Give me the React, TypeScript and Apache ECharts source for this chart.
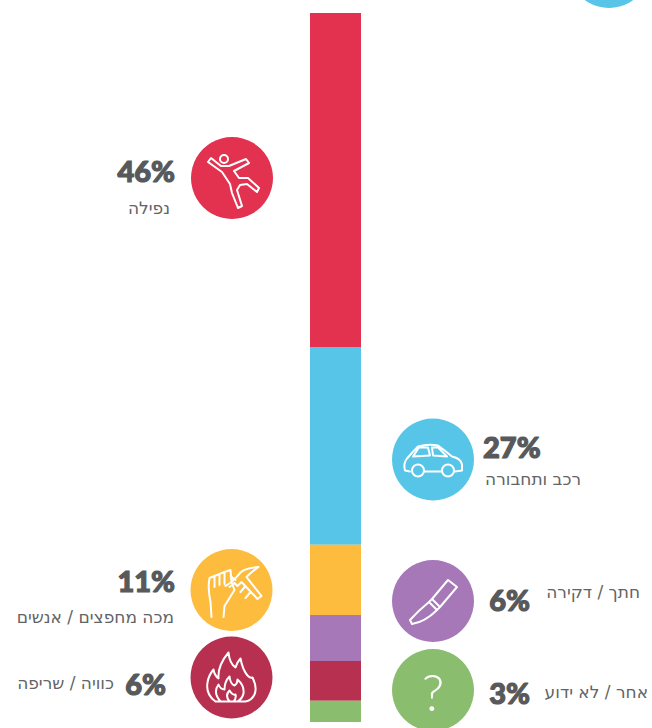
import React, { useEffect, useRef } from "react";
import * as echarts from "echarts";

// Category names as printed, their printed percentages, and each segment's share as measured from the bar.
const categories = ["נפילה", "רכב ותחבורה", "מכה מחפצים / אנשים", "חתך / דקירה", "כוויה / שריפה", "אחר / לא ידוע"];
const percentLabels = ["46%", "27%", "11%", "6%", "6%", "3%"];
const segmentShares = [47.1, 27.9, 9.9, 6.5, 5.6, 3.0];
const colors = ["#E2324F", "#56C5E8", "#FDBC3E", "#A678B8", "#B83050", "#8ABD6E"];

const TEXT = "#58595B";
const LABEL = "#636466";
const FONT = "'DejaVu Sans', 'Open Sans', sans-serif";

const iconPaths: Record<string, string> = {
  iconFall:
    "M-24,-16 L-21,-20 L-11,-12 L-3,-12 L14,-19 L17,-15 L2,-7 L7,0 L16,0 L27,10 L25,14 L15,6 L8,7 L5,12 L10,28 L6,30 L0,15 L-2,6 L-10,-6 Z " +
    "M-4,-19 A4,4 0 1 1 -12,-19 A4,4 0 1 1 -4,-19 Z",
  iconCar:
    "M-23,12 L-28,11 Q-30,4 -26,-1 Q-20,-8 -15,-13 Q-5,-16 5,-14 Q12,-9 19,-3 Q28,-1 29,5 L29,11 L22,12 " +
    "M-8,12 L8,12 " +
    "M-9,11 A6,6 0 1 1 -21,11 A6,6 0 1 1 -9,11 Z " +
    "M21,11 A6,6 0 1 1 9,11 A6,6 0 1 1 21,11 Z " +
    "M-20,-3 L-14,-12 L-5,-12 L-3,-4 Z M-1,-12 L5,-12 L14,-3 L0,-4 Z",
  iconHammer:
    "M-20,27 L-21,12 Q-24,-2 -22,-12 L-17,-14 L-17,-3 M-17,-14 L-12,-16 L-12,-5 M-12,-16 L-7,-18 L-7,-6 M-7,-18 L-1,-20 L0,-8 " +
    "M-8,27 L-7,16 Q-2,8 3,0 L0,-8 L-6,-4 " +
    "M0,-8 L6,-14 M-1,-14 L4,-10 M-2,-3 L3,-7 " +
    "M6,-14 Q10,-22 27,-23 Q20,-18 15,-13 L30,6 L26,9 L10,-8 L6,-4 L3,-7 " +
    "M14,-4 L9,2 M19,2 L14,8",
  iconFlame:
    "M-16,24 Q-26,17 -24,5 Q-23,-2 -18,-8 Q-17,-2 -13,1 Q-14,-12 -3,-25 Q-2,-14 4,-10 Q6,-16 9,-19 Q11,-8 16,-2 Q19,1 21,0 Q26,10 23,17 Q20,23 14,24 Z " +
    "M-11,24 Q-19,15 -13,7 Q-11,12 -7,12 Q-7,4 -2,-1 Q-1,7 3,8 Q6,6 6,2 Q13,8 12,16 Q11,21 6,24 " +
    "M-2,24 Q-7,18 -2,13 Q1,18 4,17 Q5,21 2,24",
  iconKnife:
    "M15,-21 L24,-14 L7,6 L-1,-2 Z M-1,-2 L-4,1 L4,9 L7,6 M-4,1 Q-15,10 -23,19 L-21,23 Q-8,21 4,9",
};
Object.keys(iconPaths).forEach((name) => {
  echarts.graphic.registerShape(name, echarts.graphic.extendPath(iconPaths[name], {}));
});

const circles = [
  { cx: 232, cy: 178, color: colors[0], icon: "iconFall" },
  { cx: 433, cy: 459.5, color: colors[1], icon: "iconCar" },
  { cx: 231.5, cy: 590, color: colors[2], icon: "iconHammer" },
  { cx: 433, cy: 601, color: colors[3], icon: "iconKnife" },
  { cx: 231.5, cy: 677.5, color: colors[4], icon: "iconFlame" },
  { cx: 433, cy: 690, color: colors[5], icon: "" },
];

const percentPlacement = [
  { x: 175, y: 170, align: "right" },
  { x: 483, y: 446, align: "left" },
  { x: 175, y: 580, align: "right" },
  { x: 530, y: 599, align: "right" },
  { x: 166, y: 683, align: "right" },
  { x: 530, y: 692, align: "right" },
];
const labelPlacement = [
  { x: 170, y: 208 },
  { x: 581, y: 479 },
  { x: 174, y: 617 },
  { x: 640, y: 592 },
  { x: 114, y: 683 },
  { x: 648, y: 692 },
];

export default function App() {
  const ref = useRef<HTMLDivElement>(null);
  useEffect(() => {
    document.body.style.margin = "0";
    const chart = echarts.init(ref.current!, undefined, { renderer: "svg" });

    const graphic: any[] = [
      { type: "circle", x: 609, y: -33, shape: { r: 41 }, style: { fill: colors[1] } },
    ];
    circles.forEach((c) => {
      graphic.push({ type: "circle", x: c.cx, y: c.cy, shape: { r: 41 }, style: { fill: c.color } });
      if (c.icon) {
        graphic.push({
          type: c.icon,
          x: c.cx,
          y: c.cy,
          style: { fill: "none", stroke: "#FFFFFF", lineWidth: 2, lineJoin: "round", lineCap: "round" },
        });
      }
    });
    graphic.push({
      type: "text",
      x: 433,
      y: 691,
      style: {
        text: "?",
        fill: "#FFFFFF",
        fontSize: 52,
        fontWeight: 300,
        fontFamily: "Lato, sans-serif",
        align: "center",
        verticalAlign: "middle",
      },
    });
    percentLabels.forEach((t, i) => {
      const p = percentPlacement[i];
      graphic.push({
        type: "text",
        x: p.x,
        y: p.y,
        style: {
          text: t,
          fill: TEXT,
          stroke: TEXT,
          lineWidth: 1.2,
          fontSize: 29,
          fontWeight: 900,
          fontFamily: "Lato, 'Open Sans', sans-serif",
          align: p.align,
          verticalAlign: "middle",
        },
      });
    });
    categories.forEach((t, i) => {
      const p = labelPlacement[i];
      graphic.push({
        type: "text",
        x: p.x,
        y: p.y,
        style: {
          text: t,
          fill: LABEL,
          fontSize: 17,
          fontWeight: 400,
          fontFamily: FONT,
          align: "right",
          verticalAlign: "middle",
        },
      });
    });

    chart.setOption({
      animation: false,
      backgroundColor: "#FFFFFF",
      grid: { left: 310, top: 13, width: 51, height: 709, containLabel: false },
      xAxis: { type: "category", data: ["פציעות"], show: false },
      yAxis: { type: "value", min: 0, max: 100, inverse: true, show: false },
      series: categories.map((name, i) => ({
        name,
        type: "bar",
        stack: "total",
        barWidth: "100%",
        itemStyle: { color: colors[i] },
        data: [segmentShares[i]],
      })),
      graphic,
    });
    return () => chart.dispose();
  }, []);
  return <div ref={ref} style={{ width: 652, height: 728 }} />;
}
